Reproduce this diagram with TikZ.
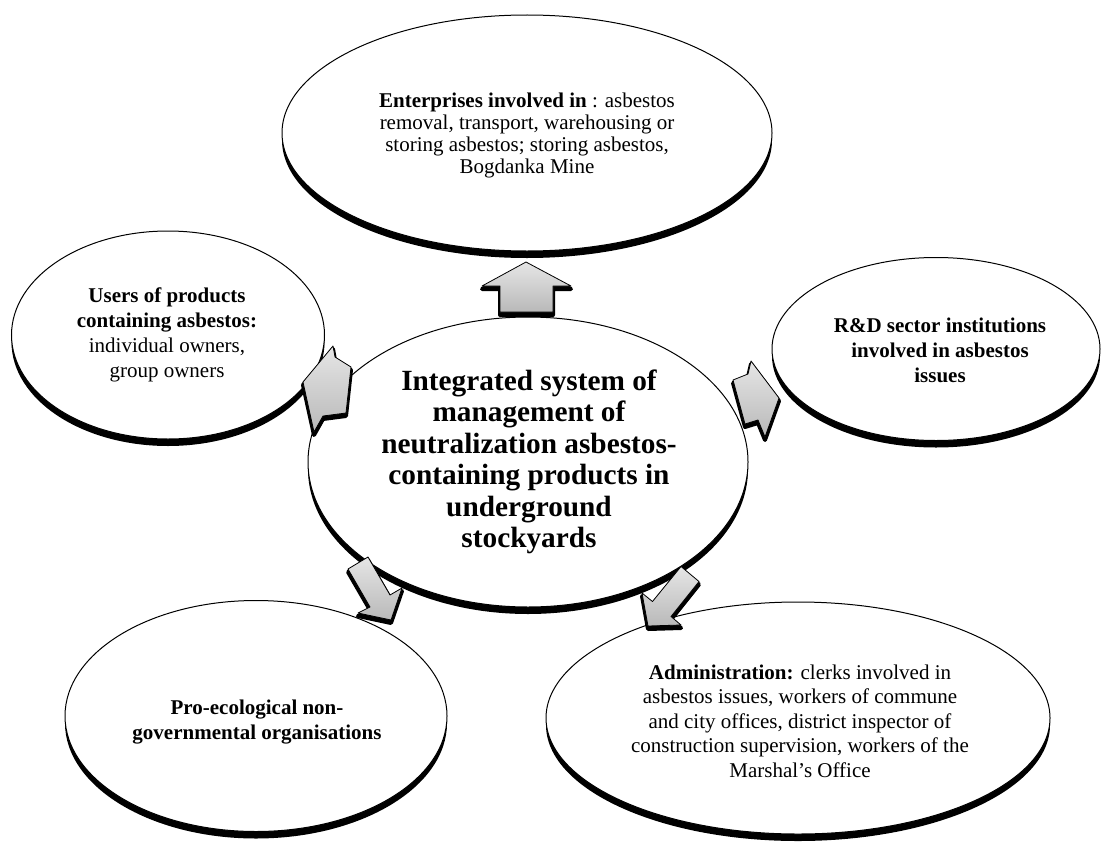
\documentclass[tikz,border=0pt]{standalone}
\usepackage{fontspec}
\setmainfont{Liberation Serif}
\usetikzlibrary{shapes.geometric,shadows}
\tikzset{
  bubble/.style={ellipse, draw=black, line width=1pt, fill=white, inner sep=0pt,
    general shadow={fill=black, shadow yshift=-7pt}},
  txt/.style={align=center, inner sep=0pt},
  barrow/.style={draw=black, line width=0.8pt, line join=round,
    top color=gray!20, bottom color=gray!55,
    general shadow={draw=black, fill=black, line width=4pt, line join=round, shadow yshift=-3pt}}
}
\begin{document}
\begin{tikzpicture}[x=1pt,y=-1pt]
\useasboundingbox (0,0) rectangle (1102,843);
% outer ellipses
\node[bubble, minimum width=490pt, minimum height=236pt] (top) at (527,133) {};
\node[bubble, minimum width=313pt, minimum height=208pt] (users) at (168,335) {};
\node[bubble, minimum width=328pt, minimum height=183pt] (rd) at (936,349) {};
\node[bubble, minimum width=382pt, minimum height=231pt] (pro) at (256,716) {};
\node[bubble, minimum width=504pt, minimum height=232pt] (adm) at (798,718) {};
% central ellipse
\node[bubble, minimum width=440pt, minimum height=290pt] (cent) at (528,462) {};
% block arrows
\path[barrow] (526,262) -- (571,286) -- (553,286) -- (553,312) -- (500,312) -- (500,286) -- (482,286) -- cycle;
\path[barrow] (303,382) -- (333,346) -- (335,357) -- (351,367) -- (346,413) -- (323,416) -- (314,432) -- cycle;
\path[barrow] (779,398) -- (751,361) -- (748,374) -- (733,380) -- (745,424) -- (758,420) -- (765,437) -- cycle;
\path[barrow] (348,569) -- (368,557) -- (390,595) -- (402,588) -- (391,620) -- (358,613) -- (370,607) -- cycle;
\path[barrow] (681,566.5) -- (699,581.5) -- (671,616.5) -- (681,625) -- (648,626) -- (642,593) -- (652.5,601.5) -- cycle;
% texts
\node[txt, font=\fontsize{21}{22}\selectfont] (topT) at (527,135)
  {\textbf{Enterprises involved in} : asbestos\\ removal, transport, warehousing or\\ storing asbestos; storing asbestos,\\ Bogdanka Mine};
\node[txt, font=\fontsize{21}{25}\selectfont] (usersT) at (167,335)
  {\textbf{Users of products}\\ \textbf{containing asbestos:}\\ individual owners,\\ group owners};
\node[txt, font=\fontsize{21}{25}\selectfont\bfseries] (rdT) at (940,350)
  {R\&D sector institutions\\ involved in asbestos\\ issues};
\node[txt, font=\fontsize{21}{25}\selectfont\bfseries] (proT) at (257,722)
  {Pro-ecological non-\\ governmental organisations};
\node[txt, font=\fontsize{21}{24.5}\selectfont] (admT) at (800,721)
  {\textbf{Administration:} clerks involved in\\ asbestos issues, workers of commune\\ and city offices, district inspector of\\ construction supervision, workers of the\\ Marshal’s Office};
\node[txt, font=\fontsize{29.3}{31.5}\selectfont\bfseries] (centT) at (529,462)
  {Integrated system of\\ management of\\ neutralization asbestos-\\ containing products in\\ underground\\ stockyards};
\end{tikzpicture}
\end{document}
